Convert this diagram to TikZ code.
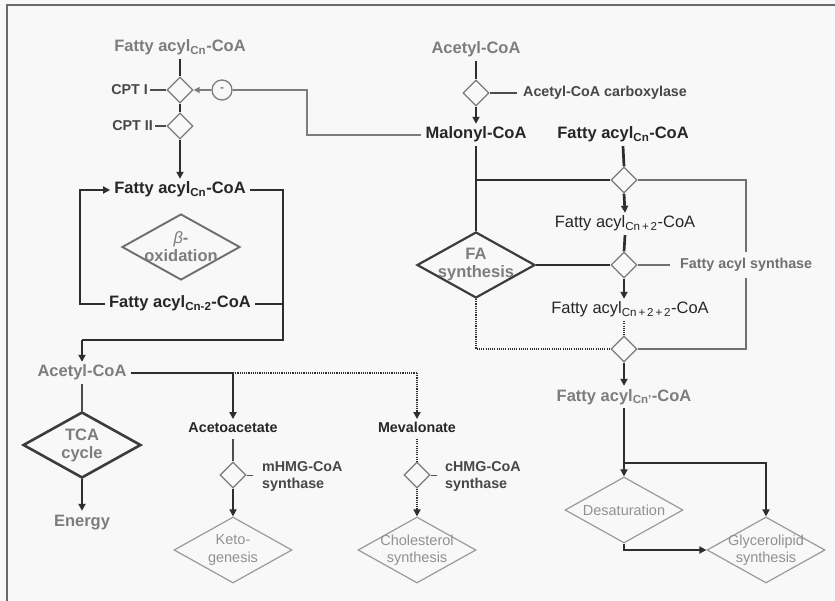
\documentclass[tikz,border=0pt]{standalone}
\usepackage{fontspec}
\setmainfont{Liberation Sans}
\usetikzlibrary{shapes.geometric,arrows.meta}
\definecolor{bg}{HTML}{F8F8F8}
\definecolor{gtext}{HTML}{7D7D7D}
\definecolor{btext}{HTML}{262626}
\definecolor{labtext}{HTML}{474747}
\definecolor{lnc}{HTML}{2E2E2E}
\definecolor{sdiab}{HTML}{7A7A7A}
\definecolor{ldiab}{HTML}{9A9A9A}
\definecolor{ddiab}{HTML}{3C3C3C}
\definecolor{frame}{HTML}{6A6A6A}
\begin{document}
\begin{tikzpicture}[x=1pt,y=-1pt,
  tx/.style={inner xsep=4pt, inner ysep=3pt, text height=12pt, text depth=4pt},
  gtxt/.style={tx, font=\fontsize{16.5}{18}\selectfont\bfseries, text=gtext},
  btxt/.style={tx, font=\fontsize{16.5}{18}\selectfont\bfseries, text=btext},
  ntxt/.style={tx, font=\fontsize{16.5}{18}\selectfont, text=btext},
  stxt/.style={inner xsep=3pt, inner ysep=3pt, text height=10.5pt, text depth=3pt, font=\fontsize{14.3}{16}\selectfont\bfseries, text=btext},
  lab/.style={font=\fontsize{14.3}{17}\selectfont\bfseries, text=labtext, align=left, inner sep=2pt},
  dtxt/.style={font=\fontsize{16.5}{18}\selectfont\bfseries, text=gtext, align=center, inner sep=0pt},
  ltxt/.style={font=\fontsize{14.5}{17.5}\selectfont, text=gtext!85, align=center, inner sep=0pt},
  sdia/.style={diamond, draw=sdiab, line width=1.3pt, fill=bg, minimum width=26pt, minimum height=26pt, inner sep=0pt},
  ldia/.style={diamond, draw=ldiab, line width=1.2pt, fill=bg, minimum width=118pt, minimum height=66pt, inner sep=0pt},
  ddia/.style={diamond, draw=ddiab, line width=2.6pt, fill=bg, minimum width=118pt, minimum height=66pt, inner sep=0pt},
  odia/.style={diamond, draw=sdiab!90!black, line width=1.9pt, fill=bg, minimum width=118pt, minimum height=66pt, inner sep=0pt},
  ln/.style={draw=lnc, line width=2.7pt},
  tn/.style={draw=lnc!85, line width=1.5pt},
  gn/.style={draw=gtext, line width=2.4pt},
  dt/.style={ln, dash pattern=on 1.1pt off 1.1pt},
  arr/.style={-{Triangle[length=7pt,width=7pt]}},
]
\useasboundingbox (0,0) rectangle (835,601);
\fill[bg] (0,0) rectangle (835,601);
\draw[frame, line width=1.6pt] (835,5) -- (7,5) -- (7,601);

% ---------- top left: CPT ----------
\node[gtxt] (fa0) at (180,48) {Fatty acyl\textsubscript{Cn}-CoA};
\node[sdia] (cpt1) at (180,90) {};
\node[sdia] (cpt2) at (180,126) {};
\node[lab, anchor=east] (cpt1l) at (150,90) {CPT I};
\node[lab, anchor=east] (cpt2l) at (155,126) {CPT II};
\draw[tn] (cpt1l.east) -- (cpt1.west);
\draw[tn] (cpt2l.east) -- (cpt2.west);
\draw[ln] (fa0.south) -- (cpt1.north);
\draw[ln] (cpt1.south) -- (cpt2.north);
\node[circle, draw=gtext, line width=1.3pt, fill=bg, minimum size=20pt, inner sep=0pt,
      font=\fontsize{12}{12}\selectfont\bfseries, text=gtext] (inh) at (222,90) {-};
\draw[gn, -{Triangle[length=6pt,width=6pt]}] (inh.west) -- (cpt1.east);

% ---------- beta-oxidation loop ----------
\node[btxt] (fa1) at (180,190) {Fatty acyl\textsubscript{Cn}-CoA};
\node[btxt] (fa2m) at (180,304) {Fatty acyl\textsubscript{Cn-2}-CoA};
\node[odia] (box) at (181,247) {};
\node[dtxt] (boxt) at (box.center) {\textit{\mdseries β}-\\oxidation};
\draw[ln, arr] (cpt2.south) -- (fa1.north);
\coordinate (l1) at (80,304);
\draw[ln, arr] (fa2m.west) -- (l1) |- (fa1.west);
\coordinate (r1) at (283,190);
\coordinate (r2) at (283,340);
\coordinate (r3) at (82,340);
\node[gtxt] (acl) at (82,373) {Acetyl-CoA};
\draw[ln] (fa1.east) -- (r1) -- (r2) -- (r3);
\draw[ln, arr] (r3) -- (acl.north);
\draw[ln] (fa2m.east) -- (fa2m.east -| r1);

% ---------- bottom left ----------
\node[ddia] (tca) at (82,445) {};
\node[dtxt] (tcat) at (tca.center) {TCA\\cycle};
\node[gtxt] (en) at (82,522) {Energy};
\draw[tn] (acl.south) -- (tca.north);
\draw[ln, arr] (tca.south) -- (en.north);

\coordinate (j1) at (233,373);
\coordinate (j2) at (417,373);
\draw[ln] (acl.east) -- (j1);
\draw[dt] (j1) -- (j2);
\node[stxt] (aa) at (233,429) {Acetoacetate};
\node[stxt] (mev) at (417,429) {Mevalonate};
\draw[ln, arr] (j1) -- (aa.north);
\draw[dt, arr] (j2) -- (mev.north);

\node[sdia] (dmh) at (233,475) {};
\node[sdia] (dch) at (417,475) {};
\draw[tn] (aa.south) -- (dmh.north);
\draw[dt, line width=2pt] (mev.south) -- (dch.north);
\node[ldia] (keto) at (233,550) {};
\node[ltxt] (ketot) at (keto.center) {Keto-\\genesis};
\node[ldia] (chol) at (417,550) {};
\node[ltxt] (cholt) at (chol.center) {Cholesterol\\synthesis};
\draw[ln, line width=2pt, arr] (dmh.south) -- (keto.north);
\draw[dt, line width=2pt, arr] (dch.south) -- (chol.north);
\coordinate (mt) at (253,475);
\coordinate (ct) at (437,475);
\draw[tn, line width=1pt] (dmh.east) -- (mt);
\draw[tn, line width=1pt] (dch.east) -- (ct);
\node[lab, anchor=west] (mhl) at (260,476) {mHMG-CoA\\synthase};
\node[lab, anchor=west] (chl) at (443,476) {cHMG-CoA\\synthase};

% ---------- right: malonyl / FA synthesis ----------
\node[gtxt] (acr) at (476,50) {Acetyl-CoA};
\node[sdia] (dacc) at (476,93) {};
\node[btxt] (mal) at (476,135) {Malonyl-CoA};
\draw[ln] (acr.south) -- (dacc.north);
\draw[ln, arr] (dacc.south) -- (mal.north);
\coordinate (at) at (517,93);
\draw[tn] (dacc.east) -- (at);
\node[lab, anchor=west] (accl) at (521,93) {Acetyl-CoA carboxylase};
\coordinate (c1) at (307,90);
\draw[gn] (inh.east) -- (c1) |- (mal.west);

\node[btxt] (fan) at (623,135) {Fatty acyl\textsubscript{Cn}-CoA};
\node[sdia] (s1) at (624,180) {};
\node[ntxt] (fc2) at (625,224) {Fatty acyl\textsubscript{Cn\,+\,2}-CoA};
\node[sdia] (s2) at (624,265) {};
\node[ntxt] (fc4) at (630,310) {Fatty acyl\textsubscript{Cn\,+\,2\,+\,2}-CoA};
\node[sdia] (s3) at (624,349) {};
\node[gtxt] (fcp) at (624,397) {Fatty acyl\textsubscript{Cn'}-CoA};
\node[ddia, line width=2.2pt] (fas) at (476,265) {};
\node[dtxt] (fast) at (fas.center) {FA\\synthesis};

\draw[ln] (fan.south) -- (s1.north);
\draw[ln] (mal.south) -- (fas.north);
\coordinate (m1) at (476,180);
\draw[ln] (m1) -- (s1.west);
\draw[ln, arr] (s1.south) -- (fc2.north);
\draw[ln] (fc2.south) -- (s2.north);
\draw[ln] (fas.east) -- (s2.west);
\draw[ln, arr] (s2.south) -- (s2.south |- fc4.north);
\draw[dt] (s3.north |- fc4.south) -- (s3.north);
\draw[dt] (fas.south) |- (s3.west);
\draw[ln, arr] (s3.south) -- (fcp.north);

\coordinate (rr) at (746,265);
\draw[tn, draw=gtext!90!black] (s1.east) -| (rr) |- (s3.east);
\coordinate (fs) at (670,265);
\draw[tn, draw=gtext!90!black] (s2.east) -- (fs);
\node[lab, anchor=west, text=gtext!90!black, fill=bg, inner xsep=4pt, inner ysep=6pt] (fasl) at (676,265) {Fatty acyl synthase};

% ---------- desaturation / glycerolipid ----------
\node[ldia] (des) at (624,510) {};
\node[ltxt] (dest) at (des.center) {Desaturation};
\node[ldia] (gly) at (766,550) {};
\node[ltxt] (glyt) at (gly.center) {Glycerolipid\\synthesis};
\draw[ln, arr] (fcp.south) -- (des.north);
\coordinate (b1) at (624,463);
\draw[ln, arr] (b1) -| (gly.north);
\draw[ln, arr] (des.south) |- (gly.west);
\end{tikzpicture}
\end{document}
